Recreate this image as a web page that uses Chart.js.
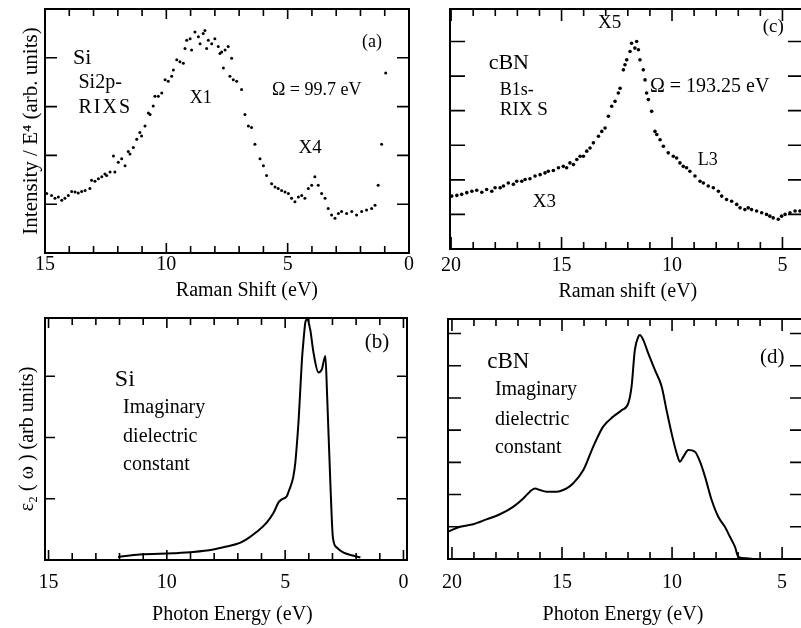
<!DOCTYPE html>
<html>
<head>
<meta charset="utf-8">
<script src="https://cdn.jsdelivr.net/npm/chart.js@4.4.1/dist/chart.umd.min.js"></script>
<style>
  html, body { margin: 0; padding: 0; background: #fff; overflow: hidden; width: 801px; height: 628px; }
  canvas { position: absolute; }
</style>
</head>
<body>
<canvas id="panelA" width="420" height="305" style="left:0;top:0;width:420px;height:305px"></canvas>
<canvas id="panelB" width="420" height="323" style="left:0;top:305px;width:420px;height:323px"></canvas>
<canvas id="panelC" width="400" height="305" style="left:420px;top:0;width:400px;height:305px"></canvas>
<canvas id="panelD" width="400" height="323" style="left:420px;top:305px;width:400px;height:323px"></canvas>
<script>
// (a) Si 2p RIXS, Raman shift (eV) vs intensity / E^4
const siRixsShift = [14.93,14.73,14.59,14.45,14.31,14.18,14.04,13.90,13.76,13.63,13.49,13.35,13.15,13.08,12.94,12.80,12.66,12.53,12.46,12.32,
  12.18,12.12,11.98,11.84,11.70,11.57,11.50,11.36,11.22,11.09,11.02,10.88,10.74,10.67,10.54,10.47,10.33,10.19,10.05,9.92,
  9.78,9.71,9.57,9.44,9.30,9.23,9.16,9.02,8.96,8.82,8.68,8.61,8.48,8.41,8.34,8.27,8.13,8.00,7.86,7.79,
  7.72,7.65,7.58,7.45,7.38,7.31,7.24,7.10,6.90,6.76,6.62,6.49,6.35,6.14,6.00,5.87,5.66,5.52,5.39,5.25,
  5.11,4.97,4.84,4.70,4.56,4.42,4.29,4.15,4.01,3.88,3.74,3.60,3.46,3.33,3.19,3.05,2.91,2.78,2.57,2.36,
  2.16,1.95,1.75,1.54,1.40,1.27,1.13,0.96];
const siRixsIntensity = [1.22,1.18,1.12,1.15,1.08,1.12,1.18,1.26,1.25,1.23,1.26,1.28,1.32,1.49,1.47,1.52,1.56,1.62,1.59,1.66,
  1.99,1.66,1.86,1.93,1.79,2.08,2.03,2.16,2.33,2.47,2.40,2.60,2.87,2.84,3.01,3.21,3.21,3.28,3.55,3.52,
  3.62,3.75,3.96,3.92,3.89,4.19,4.36,4.39,4.16,4.53,4.43,4.29,4.50,4.56,4.19,4.36,4.29,4.39,4.23,4.09,
  4.12,3.79,4.16,4.23,3.62,3.99,3.55,3.52,3.35,2.84,2.60,2.57,2.23,1.93,1.79,1.59,1.42,1.35,1.32,1.28,
  1.25,1.22,1.12,1.05,1.15,1.18,1.12,1.32,1.39,1.56,1.39,1.22,1.12,0.91,0.78,0.71,0.81,0.85,0.81,0.85,
  0.78,0.85,0.88,0.91,0.98,1.39,2.23,3.69];

// (c) cBN B1s RIXS
const cbnRixsShift = [19.97,19.74,19.52,19.29,19.06,18.84,18.61,18.39,18.16,18.01,17.78,17.63,17.41,17.18,17.03,16.80,16.65,16.43,16.20,15.97,
  15.75,15.60,15.37,15.14,14.92,14.77,14.62,14.46,14.31,14.16,14.01,13.86,13.71,13.56,13.33,13.18,13.03,12.88,12.73,12.58,
  12.43,12.35,12.20,12.13,12.05,11.90,11.83,11.68,11.60,11.52,11.45,11.30,11.22,11.15,11.07,10.92,10.77,10.69,10.54,10.39,
  10.17,9.94,9.79,9.64,9.49,9.34,9.19,8.96,8.73,8.58,8.36,8.13,7.90,7.75,7.53,7.30,7.07,6.92,6.70,6.55,
  6.40,6.17,5.94,5.72,5.57,5.42,5.19,5.04,4.88,4.66,4.43,4.21];
const cbnRixsIntensity = [1.53,1.55,1.58,1.63,1.67,1.70,1.64,1.72,1.67,1.77,1.77,1.82,1.91,1.87,1.96,1.96,2.01,2.03,2.11,2.15,
  2.20,2.25,2.27,2.35,2.39,2.35,2.49,2.44,2.59,2.68,2.68,2.83,2.92,3.07,3.26,3.40,3.50,3.84,4.13,4.27,
  4.51,4.65,5.18,5.33,5.47,5.71,5.95,5.81,6.00,5.76,5.47,5.18,4.89,4.51,4.32,3.98,3.40,3.31,3.16,2.97,
  2.78,2.68,2.63,2.49,2.39,2.35,2.25,2.11,1.96,1.91,1.82,1.77,1.67,1.53,1.43,1.38,1.29,1.19,1.14,1.19,
  1.14,1.10,1.05,1.00,0.95,0.90,0.86,0.95,1.00,1.05,1.10,1.10];

// (b) Si imaginary dielectric constant
const siEps2Energy = [12.06,11.14,9.73,8.88,8.04,7.47,6.91,6.62,6.20,5.78,5.49,5.28,5.14,4.93,4.86,4.72,4.65,4.57,4.50,4.43,
  4.36,4.29,4.22,4.15,4.08,3.94,3.80,3.59,3.45,3.30,3.23,3.09,2.98,2.81,2.53,2.10,1.82];
const siEps2Value = [0.05,0.09,0.11,0.13,0.17,0.22,0.28,0.34,0.46,0.61,0.77,0.94,0.99,1.04,1.11,1.26,1.37,1.59,1.91,2.29,
  2.78,3.27,3.60,3.87,3.93,3.76,3.38,3.06,3.11,3.33,2.73,1.26,0.36,0.20,0.12,0.07,0.04];

// (d) cBN imaginary dielectric constant
const cbnEps2Energy = [20.17,19.64,19.03,18.43,17.82,17.22,16.76,16.46,16.23,16.00,15.70,15.25,14.79,14.49,14.03,13.58,13.13,12.67,12.29,11.99,
  11.84,11.69,11.53,11.46,11.31,11.08,10.78,10.47,10.25,10.02,9.79,9.64,9.49,9.26,8.96,8.73,8.50,8.20,7.90,7.60,
  7.37,7.14,6.99,6.61,6.31];
const cbnEps2Value = [0.85,1.00,1.08,1.23,1.39,1.62,1.88,2.09,2.19,2.14,2.09,2.09,2.19,2.35,2.76,3.49,4.11,4.42,4.62,4.83,
  5.35,6.49,6.90,6.95,6.80,6.38,5.87,5.35,4.62,3.90,3.28,3.02,3.17,3.38,3.33,3.02,2.55,1.83,1.31,1.00,
  0.69,0.38,0.07,0.02,0.00];

const SERIF = "'Liberation Serif', 'Times New Roman', serif";

function toPoints(xs, ys) {
  return xs.map((x, i) => ({ x: x, y: ys[i] }));
}

// box frame with inward ticks on all four sides, the x-axis title and the text labels inside the panel
const framePlugin = {
  id: "frame",
  afterDatasetsDraw(chart, args, opts) {
    const { ctx, chartArea: a, scales: { x, y } } = chart;
    ctx.save();
    ctx.strokeStyle = "#000";
    ctx.lineWidth = 1.6;
    x.ticks.forEach(t => {
      if (!Number.isInteger(t.value) || t.value <= x.min || t.value >= x.max) return;
      const px = x.getPixelForValue(t.value);
      const len = t.value % 5 === 0 ? opts.xMajor : opts.xMinor;
      ctx.beginPath();
      ctx.moveTo(px, a.bottom); ctx.lineTo(px, a.bottom - len);
      ctx.moveTo(px, a.top); ctx.lineTo(px, a.top + len);
      ctx.stroke();
    });
    y.ticks.forEach(t => {
      if (!Number.isInteger(t.value) || t.value <= y.min || t.value >= y.max) return;
      const py = y.getPixelForValue(t.value);
      ctx.beginPath();
      ctx.moveTo(a.left, py); ctx.lineTo(a.left + opts.yLen, py);
      ctx.moveTo(a.right, py); ctx.lineTo(a.right - opts.yLen, py);
      ctx.stroke();
    });
    ctx.lineWidth = 2;
    ctx.strokeRect(a.left, a.top, a.right - a.left, a.bottom - a.top);

    ctx.fillStyle = "#000";
    ctx.textBaseline = "middle";

    // axis title, centred where the original put it
    ctx.textAlign = "center";
    ctx.font = "20px " + SERIF;
    ctx.fillText(opts.xTitle, x.getPixelForValue(opts.xTitleAt), a.bottom + opts.xTitleDy);

    ctx.textAlign = "left";
    (opts.notes || []).forEach(n => {
      ctx.font = n.size + "px " + SERIF;
      ctx.letterSpacing = n.spacing || "0px";
      ctx.fillText(n.text, x.getPixelForValue(n.x), y.getPixelForValue(n.y));
    });
    ctx.restore();
  }
};

function makePanel(id, cfg) {
  const ctx = document.getElementById(id).getContext("2d");
  const dataset = cfg.line
    ? { data: cfg.points, showLine: true, borderColor: "#000", borderWidth: 2, pointRadius: 0,
        cubicInterpolationMode: "monotone", fill: false }
    : { data: cfg.points, showLine: false, pointRadius: cfg.dot, pointBorderWidth: 0,
        pointBackgroundColor: "#000", backgroundColor: "#000" };

  return new Chart(ctx, {
    type: "scatter",
    data: { datasets: [dataset] },
    options: {
      responsive: false,
      animation: false,
      events: [],
      layout: { padding: { top: cfg.padTop, right: cfg.padRight, left: 0, bottom: 0 } },
      plugins: {
        legend: { display: false },
        tooltip: { enabled: false },
        frame: {
          xMajor: cfg.xMajor, xMinor: cfg.xMinor, yLen: cfg.yLen, notes: cfg.notes,
          xTitle: cfg.xTitle, xTitleAt: cfg.xTitleAt, xTitleDy: cfg.xTitleDy
        }
      },
      scales: {
        x: {
          type: "linear",
          reverse: true,
          min: cfg.xMin,
          max: cfg.xMax,
          afterFit: s => { s.height = cfg.xHeight; },
          grid: { display: false, drawTicks: false },
          border: { display: false },
          ticks: {
            stepSize: 1,
            autoSkip: false,
            maxRotation: 0,
            includeBounds: false,
            padding: cfg.tickPad,
            color: "#000",
            font: { family: SERIF, size: 20 },
            callback: v => (Number.isInteger(v) && v % 5 === 0) ? String(v) : ""
          },
          title: { display: false }
        },
        y: {
          type: "linear",
          min: 0,
          max: cfg.yMax,
          afterFit: s => { s.width = cfg.yWidth; },
          grid: { display: false, drawTicks: false },
          border: { display: false },
          ticks: { display: false, stepSize: 1, includeBounds: false },
          title: {
            display: !!cfg.yTitle,
            text: cfg.yTitle || "",
            color: "#000",
            font: { family: SERIF, size: cfg.yTitleSize || 20 },
            padding: { top: cfg.yTitlePad || 0, bottom: 0 }
          }
        }
      }
    },
    plugins: [framePlugin]
  });
}

makePanel("panelA", {
  points: toPoints(siRixsShift, siRixsIntensity), dot: 1.5,
  xMin: 0, xMax: 15, yMax: 5,
  padTop: 9, padRight: 11, yWidth: 45, xHeight: 52, tickPad: 0,
  xTitle: "Raman Shift (eV)", xTitleAt: 6.68, xTitleDy: 38,
  yTitle: "Intensity / E\u2074 (arb. units)", yTitleSize: 21, yTitlePad: 19,
  xMajor: 10, xMinor: 7, yLen: 12,
  notes: [
    { text: "Si", x: 13.85, y: 4.0, size: 22 },
    { text: "Si2p-", x: 13.62, y: 3.48, size: 20 },
    { text: "RIXS", x: 13.62, y: 2.97, size: 20, spacing: "2px" },
    { text: "X1", x: 9.03, y: 3.18, size: 18 },
    { text: "\u03A9 = 99.7 eV", x: 5.65, y: 3.34, size: 18 },
    { text: "X4", x: 4.55, y: 2.15, size: 19 },
    { text: "(a)", x: 1.94, y: 4.32, size: 18 }
  ]
});

makePanel("panelB", {
  points: toPoints(siEps2Energy, siEps2Value), line: true,
  xMin: -0.15, xMax: 15.15, yMax: 3.95,
  padTop: 13, padRight: 13, yWidth: 45, xHeight: 68, tickPad: 11,
  xTitle: "Photon Energy (eV)", xTitleAt: 7.23, xTitleDy: 55,
  yTitle: "\u03B5\u2082 ( \u03C9 ) (arb units)", yTitleSize: 20, yTitlePad: 16,
  xMajor: 10, xMinor: 7, yLen: 10,
  notes: [
    { text: "Si", x: 12.2, y: 2.94, size: 24 },
    { text: "Imaginary", x: 11.85, y: 2.48, size: 20 },
    { text: "dielectric", x: 11.85, y: 2.01, size: 20 },
    { text: "constant", x: 11.85, y: 1.55, size: 20 },
    { text: "(b)", x: 1.64, y: 3.55, size: 21 }
  ]
});

makePanel("panelC", {
  points: toPoints(cbnRixsShift, cbnRixsIntensity), dot: 1.8,
  xMin: 4.07, xMax: 20.05, yMax: 6.94,
  padTop: 9, padRight: 17, yWidth: 30, xHeight: 56, tickPad: 5,
  xTitle: "Raman shift (eV)", xTitleAt: 12.0, xTitleDy: 43,
  xMajor: 12, xMinor: 7, yLen: 15,
  notes: [
    { text: "cBN", x: 18.3, y: 5.38, size: 22 },
    { text: "B1s-", x: 17.8, y: 4.60, size: 18 },
    { text: "RIX S", x: 17.8, y: 4.02, size: 19 },
    { text: "X5", x: 13.35, y: 6.53, size: 19 },
    { text: "\u03A9 = 193.25 eV", x: 11.0, y: 4.68, size: 20 },
    { text: "L3", x: 8.83, y: 2.57, size: 18 },
    { text: "X3", x: 16.3, y: 1.36, size: 19 },
    { text: "(c)", x: 5.89, y: 6.42, size: 19 }
  ]
});

makePanel("panelD", {
  points: toPoints(cbnEps2Energy, cbnEps2Value), line: true,
  xMin: 4.05, xMax: 20.18, yMax: 7.45,
  padTop: 14, padRight: 17, yWidth: 28, xHeight: 69, tickPad: 12,
  xTitle: "Photon Energy (eV)", xTitleAt: 12.23, xTitleDy: 56,
  xMajor: 12, xMinor: 7, yLen: 13,
  notes: [
    { text: "cBN", x: 18.4, y: 6.12, size: 23 },
    { text: "Imaginary", x: 18.05, y: 5.25, size: 20 },
    { text: "dielectric", x: 18.05, y: 4.32, size: 20 },
    { text: "constant", x: 18.05, y: 3.45, size: 20 },
    { text: "(d)", x: 6.0, y: 6.24, size: 21 }
  ]
});
</script>
</body>
</html>
